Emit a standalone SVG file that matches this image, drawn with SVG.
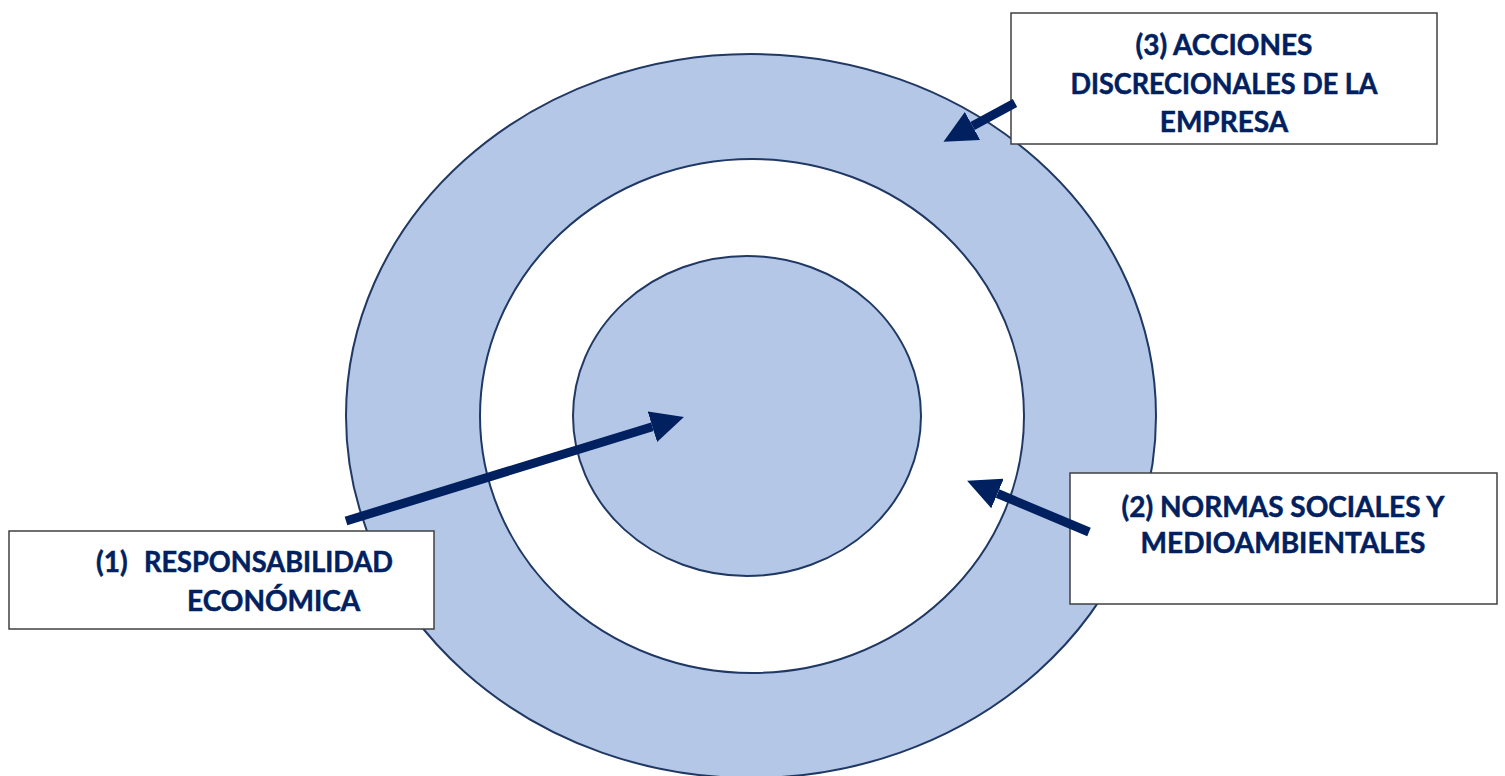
<svg xmlns="http://www.w3.org/2000/svg" width="1505" height="776" viewBox="0 0 1505 776">
<style>
.ring{fill:#B4C7E7;stroke:#203864;stroke-width:2}
.hole{fill:#FFFFFF;stroke:#203864;stroke-width:2}
.box{fill:#FFFFFF;stroke:#404040;stroke-width:1.5}
.lbl{font-family:Lato,"Open Sans","Liberation Sans",sans-serif;font-weight:bold;font-size:28px;fill:#002060;stroke:#002060;stroke-width:0.5}
.arr{stroke:#002060;stroke-width:9;fill:none;marker-end:url(#head)}
</style>
<defs>
<marker id="head" markerUnits="userSpaceOnUse" markerWidth="34" markerHeight="32" refX="0" refY="16" orient="auto">
<path d="M0,0 L33,16 L0,32 Z" fill="#002060"/>
</marker>
</defs>
<rect width="1505" height="776" fill="#FFFFFF"/>
<g id="outer-ring"><ellipse class="ring" cx="751" cy="416" rx="405" ry="362"/></g>
<g id="middle-ring"><ellipse class="hole" cx="752" cy="416" rx="272" ry="257"/></g>
<g id="inner-circle"><ellipse class="ring" cx="747" cy="416" rx="174" ry="160"/></g>
<g id="box3">
<rect class="box" x="1011" y="13" width="426" height="131"/>
<text class="lbl" x="1224" y="55" text-anchor="middle">(3) ACCIONES</text>
<text class="lbl" x="1224" y="94" text-anchor="middle" textLength="307" lengthAdjust="spacingAndGlyphs">DISCRECIONALES DE LA</text>
<text class="lbl" x="1224" y="132" text-anchor="middle">EMPRESA</text>
</g>
<g id="box2">
<rect class="box" x="1070" y="473" width="427" height="131"/>
<text class="lbl" x="1283" y="517" text-anchor="middle">(2) NORMAS SOCIALES Y</text>
<text class="lbl" x="1283" y="553" text-anchor="middle">MEDIOAMBIENTALES</text>
</g>
<g id="box1">
<rect class="box" x="9" y="531" width="425" height="98"/>
<text class="lbl" x="96" y="572">(1)</text>
<text class="lbl" x="144" y="572" textLength="249" lengthAdjust="spacingAndGlyphs">RESPONSABILIDAD</text>
<text class="lbl" x="187" y="611">ECONÓMICA</text>
</g>
<g id="connectors">
<line class="arr" x1="346" y1="521" x2="652.4" y2="426.7"/>
<line class="arr" x1="1015" y1="103" x2="972.5" y2="126"/>
<line class="arr" x1="1089" y1="532" x2="997.5" y2="493.5"/>
</g>
</svg>
